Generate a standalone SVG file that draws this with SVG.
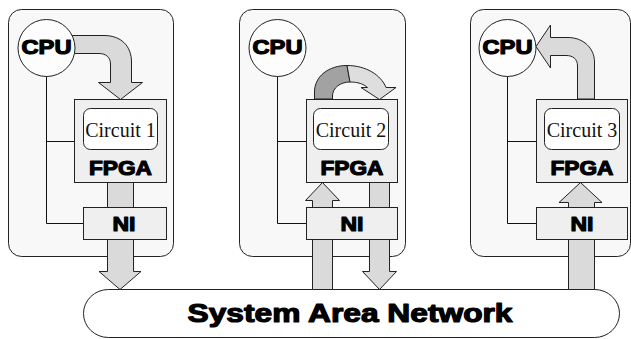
<svg xmlns="http://www.w3.org/2000/svg" width="631" height="339" viewBox="0 0 631 339">
  <defs>
    <style>
      .panel { fill: #f8f8f8; stroke: #222; stroke-width: 1; }
      .box { fill: #efefef; stroke: #222; stroke-width: 1; }
      .circuit { fill: #ffffff; stroke: #222; stroke-width: 1; }
      .cpu { fill: #fdfdfd; stroke: #222; stroke-width: 1; }
      .san { fill: #ffffff; stroke: #222; stroke-width: 1; }
      .flow { fill: #dadada; stroke: #222; stroke-width: 1; stroke-linejoin: miter; }
      .flow-dark { fill: #a2a2a2; stroke: #222; stroke-width: 1; }
      .flow-light { fill: #dedede; stroke: #222; stroke-width: 1; }
      .bus { fill: none; stroke: #111; stroke-width: 1; }
      .heavy { font-family: "Liberation Sans", Arial, sans-serif; font-weight: bold; fill: #000; stroke: #000; stroke-width: 1.2; stroke-linejoin: round; text-anchor: middle; }
      .serif { font-family: "Liberation Serif", "Times New Roman", serif; font-size: 20px; fill: #111; text-anchor: middle; }
    </style>
  </defs>

  <!-- workstation enclosures -->
  <g id="panels">
    <rect class="panel" x="8.5" y="9.5" width="165" height="247" rx="13"/>
    <rect class="panel" x="239.5" y="9.5" width="166" height="247" rx="13"/>
    <rect class="panel" x="470.5" y="9.5" width="160" height="247" rx="13"/>
  </g>

  <g id="san">
    <rect class="san" x="83.5" y="289.5" width="536" height="48" rx="25"/>
    <text class="heavy" x="350" y="322" font-size="26" textLength="325" lengthAdjust="spacingAndGlyphs">System Area Network</text>
  </g>

  <g id="connectors">
    <!-- bus lines CPU to FPGA and NI -->
    <path class="bus" d="M46.5,76 V223.5 H83 M46.5,141.5 H74"/>
    <path class="bus" d="M277.5,76 V223.5 H306 M277.5,141.5 H306"/>
    <path class="bus" d="M507.5,76 V223.5 H536 M507.5,141.5 H536"/>

    <!-- node 1: CPU to FPGA, FPGA through NI to network -->
    <path class="flow" d="M68,35.5 H104 C121,35.5 131.5,46 131.5,62 V82.5 H142.5 L120.5,99.5 L98.5,82.5 H110.5 V64 C110.5,57.5 106,53.5 99,53.5 H68 Z"/>
    <path class="flow" d="M107.5,182 V271.5 H99 L120,289.5 L141,271.5 H133.5 V182 Z"/>

    <!-- node 2: network through NI to FPGA, loop on FPGA, FPGA back to network -->
    <path class="flow" d="M312.5,289.5 V200.5 H305.5 L322.5,182.5 L339.5,200.5 H332.5 V289.5 Z"/>
    <path class="flow" d="M369.5,182 V271.5 H362.5 L379.5,289.5 L396.5,271.5 H389.5 V182 Z"/>
    <path class="flow-dark" d="M314.5,99 V92 C314.5,76 329,65.5 347,65.5 L350,82 C340,82 332.5,88 332.5,96 V99 Z"/>
    <path class="flow-light" d="M347,65.5 C366,65.5 381,75 386,87.5 H396 L379.5,99.5 L361,87.5 H367.5 C363.5,84 358,82 350,82 Z"/>

    <!-- node 3: network through NI to FPGA, FPGA to CPU -->
    <path class="flow" d="M568.5,289.5 V202.5 H559 L580.5,182.5 L602,202.5 H594.5 V289.5 Z"/>
    <path class="flow" d="M577.5,99 V66 C577.5,59 573,55.5 566,55.5 H550.5 V68 L536,46.5 L550.5,25 V37.5 H568 C583,37.5 594.5,48 594.5,62 V99 Z"/>
  </g>

  <!-- node 1 -->
  <g id="cpu1">
    <circle class="cpu" cx="46.5" cy="48" r="28.5"/>
    <text class="heavy" x="46.5" y="53.5" font-size="21" textLength="50" lengthAdjust="spacingAndGlyphs">CPU</text>
  </g>
  <g id="fpga1">
    <rect class="box" x="74.5" y="99.5" width="92" height="83"/>
    <rect class="circuit" x="83.5" y="108.5" width="74" height="41" rx="7"/>
    <text class="serif" x="120.5" y="137">Circuit 1</text>
    <text class="heavy" x="120.5" y="174.5" font-size="21" textLength="63" lengthAdjust="spacingAndGlyphs">FPGA</text>
  </g>
  <g id="ni1">
    <rect class="box" x="83.5" y="207.5" width="83" height="32"/>
    <text class="heavy" x="124" y="231" font-size="21" textLength="23" lengthAdjust="spacingAndGlyphs">NI</text>
  </g>

  <!-- node 2 -->
  <g id="cpu2">
    <circle class="cpu" cx="277.5" cy="48" r="28.5"/>
    <text class="heavy" x="277.5" y="53.5" font-size="21" textLength="50" lengthAdjust="spacingAndGlyphs">CPU</text>
  </g>
  <g id="fpga2">
    <rect class="box" x="306.5" y="99.5" width="91" height="83"/>
    <rect class="circuit" x="313.5" y="108.5" width="75" height="41" rx="7"/>
    <text class="serif" x="351" y="137">Circuit 2</text>
    <text class="heavy" x="352" y="174.5" font-size="21" textLength="63" lengthAdjust="spacingAndGlyphs">FPGA</text>
  </g>
  <g id="ni2">
    <rect class="box" x="306.5" y="207.5" width="91" height="32"/>
    <text class="heavy" x="352" y="231" font-size="21" textLength="23" lengthAdjust="spacingAndGlyphs">NI</text>
  </g>

  <!-- node 3 -->
  <g id="cpu3">
    <circle class="cpu" cx="507.5" cy="48" r="28.5"/>
    <text class="heavy" x="507.5" y="53.5" font-size="21" textLength="50" lengthAdjust="spacingAndGlyphs">CPU</text>
  </g>
  <g id="fpga3">
    <rect class="box" x="536.5" y="99.5" width="91" height="83"/>
    <rect class="circuit" x="544.5" y="108.5" width="75" height="41" rx="7"/>
    <text class="serif" x="582" y="137">Circuit 3</text>
    <text class="heavy" x="582" y="174.5" font-size="21" textLength="63" lengthAdjust="spacingAndGlyphs">FPGA</text>
  </g>
  <g id="ni3">
    <rect class="box" x="536.5" y="207.5" width="91" height="32"/>
    <text class="heavy" x="582" y="231" font-size="21" textLength="23" lengthAdjust="spacingAndGlyphs">NI</text>
  </g>
</svg>
